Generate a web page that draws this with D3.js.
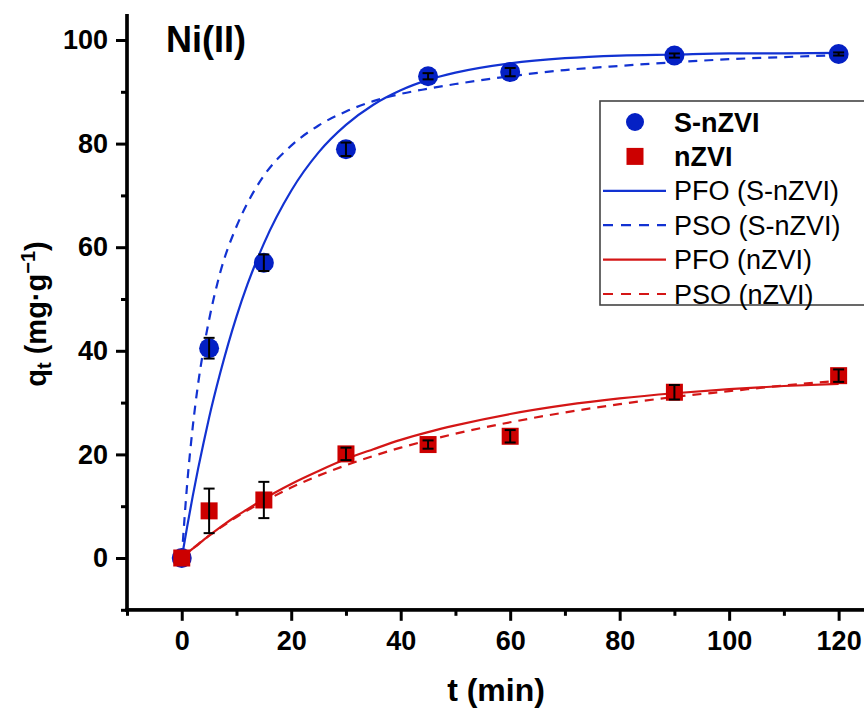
<!DOCTYPE html>
<html><head><meta charset="utf-8">
<script src="https://cdn.jsdelivr.net/npm/d3@7"></script>
<style>
html,body{margin:0;padding:0;background:#fff;}
svg{display:block;font-family:Arial,"Liberation Sans",sans-serif;}
</style></head>
<body><svg id="chart" width="864" height="708"></svg>
<script>
// ---- data ----
const times = [0, 5, 15, 30, 45, 60, 90, 120];
const snzviQ = [0, 40.5, 57.0, 78.9, 93.0, 93.8, 97.0, 97.3];
const snzviErr = [0, 2.0, 1.6, 1.3, 0.6, 0.8, 0.4, 0.3];
const nzviQ = [0, 9.1, 11.2, 20.1, 21.9, 23.5, 32.0, 35.2];
const nzviErr = [0, 4.3, 3.5, 1.2, 0.8, 1.2, 1.4, 1.2];

const fitT = [0,1,2,3,4,5,7,10,12,15,20,25,30,35,40,45,50,60,70,80,90,100,110,120];
const pfoS = [0,6.1,11.9,17.3,22.3,27.1,35.6,46.6,52.8,60.7,70.9,78.3,83.6,87.5,90.3,92.3,93.7,95.5,96.5,97.0,97.2,97.4,97.4,97.5];
const psoS = [0,14.4,25.2,33.7,40.4,46.0,55.0,64.0,68.5,73.8,79.6,83.5,86.2,88.2,89.6,90.6,91.5,93.0,94.2,95.0,95.7,96.3,96.7,97.1];
const pfoN = [0,0.9,1.8,2.6,3.5,4.3,5.9,8.1,9.4,11.4,14.3,16.8,19.1,21.0,22.8,24.3,25.6,27.8,29.5,30.8,31.8,32.6,33.2,33.6];
const psoN = [0,0.9,1.8,2.7,3.5,4.3,5.8,7.9,9.2,10.9,13.6,15.9,17.9,19.7,21.3,22.7,24.0,26.2,28.1,29.7,31.1,32.2,33.3,34.2];

const xMajor = [0, 20, 40, 60, 80, 100, 120];
const xMinor = [-10, 10, 30, 50, 70, 90, 110];
const yMajor = [0, 20, 40, 60, 80, 100];
const yMinor = [-10, 10, 30, 50, 70, 90];

const legendItems = [
  {label: "S-nZVI", type: "circle", color: "blue", bold: true},
  {label: "nZVI", type: "square", color: "red", bold: true},
  {label: "PFO (S-nZVI)", type: "solid", color: "blue"},
  {label: "PSO (S-nZVI)", type: "dash", color: "blue"},
  {label: "PFO (nZVI)", type: "solid", color: "red"},
  {label: "PSO (nZVI)", type: "dash", color: "red"}
];

// ---- styles ----
const C = {blueM: "#0420C4", blueL: "#1232D2", redM: "#CC0000", redL: "#D41616"};
const svg = d3.select("#chart");
const x = d3.scaleLinear().domain([-10, 125]).range([127, 866]);
const y = d3.scaleLinear().domain([-10, 105]).range([609.8, 14.1]);

// ---- fit lines ----
const line = d3.line().x(d => x(d[0])).y(d => y(d[1])).curve(d3.curveMonotoneX);
const fits = [
  {v: pfoS, c: C.blueL, dash: null},
  {v: psoS, c: C.blueL, dash: "9,7"},
  {v: pfoN, c: C.redL, dash: null},
  {v: psoN, c: C.redL, dash: "9,7"}
];
fits.forEach(f => {
  svg.append("path")
    .datum(fitT.map((t, i) => [t, f.v[i]]))
    .attr("d", line).attr("fill", "none")
    .attr("stroke", f.c).attr("stroke-width", 2.2)
    .attr("stroke-dasharray", f.dash);
});

// ---- markers ----
const sData = times.map((t, i) => ({t, q: snzviQ[i], e: snzviErr[i]}));
const nData = times.map((t, i) => ({t, q: nzviQ[i], e: nzviErr[i]}));

svg.append("g").selectAll("circle").data(sData).join("circle")
  .attr("cx", d => x(d.t)).attr("cy", d => y(d.q)).attr("r", 10)
  .attr("fill", C.blueM);
svg.append("g").selectAll("rect").data(nData).join("rect")
  .attr("x", d => x(d.t) - 8.5).attr("y", d => y(d.q) - 8.5)
  .attr("width", 17).attr("height", 17).attr("fill", C.redM);

// ---- error bars ----
function errBars(data) {
  const g = svg.append("g").attr("stroke", "#000").attr("stroke-width", 2);
  data.filter(d => d.e > 0).forEach(d => {
    const cx = x(d.t), y1 = y(d.q - d.e), y2 = y(d.q + d.e);
    g.append("line").attr("x1", cx).attr("x2", cx).attr("y1", y1).attr("y2", y2);
    g.append("line").attr("x1", cx - 5.5).attr("x2", cx + 5.5).attr("y1", y1).attr("y2", y1);
    g.append("line").attr("x1", cx - 5.5).attr("x2", cx + 5.5).attr("y1", y2).attr("y2", y2);
  });
}
errBars(sData);
errBars(nData);

// ---- axes ----
const axisFont = "bold 27px Arial, 'Liberation Sans', sans-serif";
const yAxis = svg.append("g").attr("transform", `translate(${x(-10)},0)`)
  .call(d3.axisLeft(y).tickValues(yMajor).tickSize(11).tickSizeOuter(0).tickPadding(8));
const yMin = svg.append("g").attr("transform", `translate(${x(-10)},0)`)
  .call(d3.axisLeft(y).tickValues(yMinor).tickSize(6).tickSizeOuter(0).tickFormat(""));
const xAxis = svg.append("g").attr("transform", `translate(0,${y(-10)})`)
  .call(d3.axisBottom(x).tickValues(xMajor).tickSize(11).tickSizeOuter(0).tickPadding(10));
const xMin = svg.append("g").attr("transform", `translate(0,${y(-10)})`)
  .call(d3.axisBottom(x).tickValues(xMinor).tickSize(6).tickSizeOuter(0).tickFormat(""));
[yAxis, yMin, xAxis, xMin].forEach(a => {
  a.select(".domain").attr("stroke", "#000").attr("stroke-width", 3.2);
  a.selectAll(".tick line").attr("stroke", "#000").attr("stroke-width", 3);
  a.selectAll(".tick text").style("font", axisFont).attr("fill", "#000");
});
yAxis.select(".domain").attr("d", `M0,${y(105)}V${y(-10) + 1.6}`);
yMin.select(".domain").attr("d", `M0,${y(105)}V${y(-10) + 1.6}`);
xAxis.select(".domain").attr("d", `M${x(-10) - 1.6},0H864`);
xMin.select(".domain").attr("d", `M${x(-10) - 1.6},0H864`);

// ---- titles ----
svg.append("text").attr("x", 496).attr("y", 701).attr("text-anchor", "middle")
  .style("font", "bold 32px Arial, 'Liberation Sans', sans-serif").text("t (min)");

const yt = svg.append("text")
  .attr("transform", "translate(46,314) rotate(-90)")
  .attr("text-anchor", "middle")
  .style("font", "bold 29px Arial, 'Liberation Sans', sans-serif");
yt.append("tspan").text("q");
yt.append("tspan").attr("font-size", "20px").attr("dy", "5").text("t");
yt.append("tspan").attr("dy", "-5").text(" (mg·g");
yt.append("tspan").attr("font-size", "20px").attr("dy", "-11").text("−1");
yt.append("tspan").attr("dy", "11").text(")");

svg.append("text").attr("x", 166).attr("y", 52)
  .style("font", "bold 36px Arial, 'Liberation Sans', sans-serif").text("Ni(II)");

// ---- legend ----
const lg = svg.append("g");
lg.append("rect").attr("x", 600).attr("y", 101).attr("width", 280).attr("height", 204)
  .attr("fill", "#fff").attr("stroke", "#444").attr("stroke-width", 1.6);
legendItems.forEach((it, i) => {
  const cy = 122 + i * 34.4;
  const markC = it.color === "blue" ? C.blueM : C.redM;
  const lineC = it.color === "blue" ? C.blueL : C.redL;
  if (it.type === "circle") {
    lg.append("circle").attr("cx", 635).attr("cy", cy).attr("r", 9).attr("fill", markC);
  } else if (it.type === "square") {
    lg.append("rect").attr("x", 626.5).attr("y", cy - 8.5).attr("width", 17).attr("height", 17).attr("fill", markC);
  } else {
    lg.append("line").attr("x1", 603).attr("x2", 666).attr("y1", cy).attr("y2", cy)
      .attr("stroke", lineC).attr("stroke-width", 2.2)
      .attr("stroke-dasharray", it.type === "dash" ? "10,8" : null);
  }
  lg.append("text").attr("x", 674).attr("y", cy + 9.5)
    .style("font", (it.bold ? "bold " : "") + "27px Arial, 'Liberation Sans', sans-serif")
    .text(it.label);
});
</script>
</body></html>
